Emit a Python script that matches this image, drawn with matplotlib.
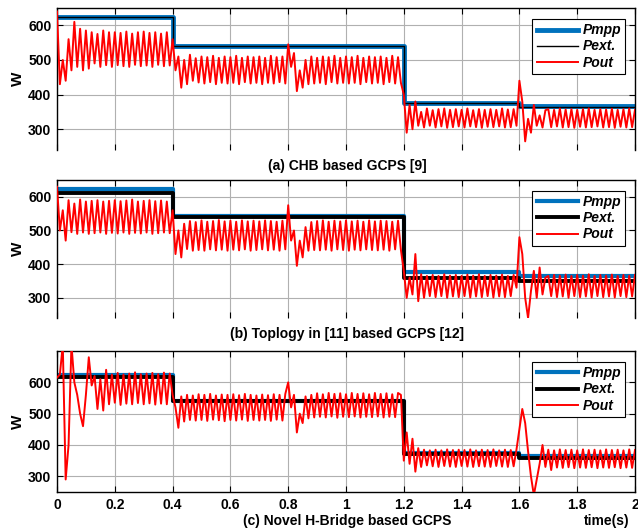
import numpy as np
import matplotlib
matplotlib.use("Agg")
import matplotlib.pyplot as plt

plt.rcParams['font.family'] = ['Liberation Sans', 'DejaVu Sans']
plt.rcParams['font.weight'] = 'bold'

# ---------------- data ----------------
seg_t = [0.0, 0.4, 1.2, 1.6, 2.0]

pmpp_a = [625, 541, 376, 366]
pext_a = [624, 540, 375, 365]
pmpp_b = [624, 543, 376, 366]
pext_b = [611, 540, 358, 350]
pmpp_c = [625, 541, 376, 366]
pext_c = [617, 540, 370, 360]

pout_a = [
    640, 430, 500, 440, 560, 470, 610, 480, 590, 470,
    585, 475, 580, 490, 575, 480, 585, 485, 580, 480,
    580, 485, 578, 482, 582, 480, 576, 486, 580, 482,
    582, 484, 578, 480, 580, 486, 576, 482, 580, 484,
    560, 470, 510, 420, 500, 430, 515, 440, 505, 435,
    510, 432, 508, 436, 512, 430, 506, 434, 510, 432,
    508, 434, 512, 430, 506, 436, 510, 432, 508, 434,
    510, 430, 506, 434, 512, 432, 508, 436, 510, 432,
    545, 480, 520, 410, 470, 420, 500, 430, 510, 432,
    506, 434, 510, 430, 508, 436, 512, 432, 506, 434,
    510, 432, 508, 434, 512, 430, 506, 436, 510, 432,
    508, 434, 510, 430, 506, 436, 512, 432, 508, 434,
    400, 290, 370, 300, 380, 310, 350, 305, 360, 310,
    355, 305, 358, 308, 360, 304, 356, 306, 358, 308,
    356, 305, 360, 308, 355, 306, 358, 304, 356, 307,
    358, 306, 356, 308, 360, 305, 357, 306, 358, 310,
    440, 380, 265, 330, 290, 370, 310, 340, 305, 355,
    358, 306, 356, 308, 360, 305, 357, 306, 358, 304,
    356, 307, 358, 305, 360, 306, 356, 308, 358, 305,
    357, 306, 359, 304, 356, 307, 358, 305, 360, 306,
    356,
]

pout_b = [
    630, 500, 560, 470, 590, 495, 580, 490, 592, 494,
    586, 490, 588, 492, 590, 494, 586, 490, 588, 493,
    590, 491, 587, 494, 589, 490, 592, 493, 586, 491,
    588, 494, 590, 490, 587, 492, 589, 494, 586, 492,
    560, 430, 500, 420, 520, 445, 528, 440, 525, 442,
    530, 440, 526, 444, 528, 441, 531, 443, 527, 440,
    529, 443, 526, 441, 530, 444, 527, 440, 529, 442,
    527, 444, 530, 441, 528, 443, 526, 440, 529, 444,
    575, 470, 500, 395, 470, 420, 510, 440, 525, 442,
    528, 441, 530, 443, 526, 440, 529, 444, 527, 442,
    530, 440, 527, 443, 529, 441, 526, 444, 530, 442,
    527, 441, 529, 443, 528, 440, 526, 444, 529, 442,
    380, 300, 360, 310, 430, 290, 370, 300, 365, 305,
    368, 302, 365, 305, 370, 300, 366, 304, 368, 302,
    365, 305, 369, 301, 366, 304, 370, 302, 365, 305,
    368, 301, 366, 304, 369, 302, 365, 305, 368, 330,
    480, 430, 300, 240, 320, 380, 300, 390, 310, 360,
    365, 305, 368, 302, 366, 304, 369, 300, 365, 305,
    368, 302, 366, 304, 370, 301, 365, 305, 368, 302,
    366, 304, 369, 301, 365, 305, 368, 302, 366, 304,
    368,
]

pout_c = [
    615, 625, 720, 290, 400, 720, 600, 560, 500, 460,
    560, 680, 590, 620, 515, 610, 510, 640, 530, 625,
    535, 630, 528, 625, 532, 628, 530, 632, 534, 626,
    530, 628, 533, 630, 529, 626, 532, 631, 530, 628,
    560, 520, 455, 555, 475, 560, 480, 558, 478, 562,
    480, 560, 477, 563, 481, 558, 479, 561, 476, 560,
    480, 562, 478, 559, 481, 563, 477, 560, 480, 558,
    478, 561, 480, 559, 477, 562, 481, 560, 478, 563,
    600, 520, 560, 440, 500, 470, 555, 485, 560, 488,
    565, 490, 562, 488, 566, 491, 563, 487, 565, 490,
    562, 489, 566, 491, 563, 488, 565, 490, 562, 489,
    566, 491, 563, 488, 565, 490, 562, 489, 566, 560,
    350, 440, 340, 420, 315, 390, 330, 385, 335, 383,
    332, 385, 330, 383, 333, 386, 331, 384, 330, 385,
    333, 384, 331, 386, 330, 383, 332, 385, 331, 384,
    330, 386, 333, 383, 331, 385, 330, 384, 332, 386,
    450, 515, 470, 380, 300, 240, 290, 340, 400, 330,
    385, 320, 383, 328, 386, 327, 384, 329, 385, 326,
    383, 328, 386, 327, 384, 329, 385, 326, 383, 328,
    386, 327, 384, 329, 385, 326, 383, 328, 386, 327,
    384,
]

titles = ["(a) CHB based GCPS [9]",
          "(b) Toplogy in [11] based GCPS [12]",
          "(c) Novel H-Bridge based GCPS"]
xticks = [0, 0.2, 0.4, 0.6, 0.8, 1.0, 1.2, 1.4, 1.6, 1.8, 2.0]
xticklabels = ["0", "0.2", "0.4", "0.6", "0.8", "1", "1.2", "1.4", "1.6", "1.8", "2"]
yticks = [300, 400, 500, 600]
legend_labels = ["Pmpp", "Pext.", "Pout"]

# ---------------- figure ----------------
fig = plt.figure(figsize=(6.38, 5.30), dpi=100)
W, H = 638, 530

def px_axes(left, top, right, bottom):
    return fig.add_axes([left / W, 1 - bottom / H, (right - left) / W, (bottom - top) / H])

axes = [px_axes(57, 8, 635, 150), px_axes(57, 180, 635, 318), px_axes(57, 351, 635, 492)]
ylims = [(240, 650), (240, 650), (250, 700)]
pmpps = [pmpp_a, pmpp_b, pmpp_c]
pexts = [pext_a, pext_b, pext_c]
pouts = [pout_a, pout_b, pout_c]
mpp_lw = [3.5, 3.0, 3.0]
ext_lw = [1.0, 2.8, 2.8]
out_lw = [1.4, 1.4, 1.4]
title_y = [166, 334, 521]
blue = '#0072BD'

for i, ax in enumerate(axes):
    t_out = np.linspace(0, 2, len(pouts[i]))
    ax.plot(seg_t, pmpps[i] + [pmpps[i][-1]], drawstyle='steps-post', color=blue,
            lw=mpp_lw[i], label=legend_labels[0], zorder=2)
    ax.plot(seg_t, pexts[i] + [pexts[i][-1]], drawstyle='steps-post', color='black',
            lw=ext_lw[i], label=legend_labels[1], zorder=3)
    ax.plot(t_out, pouts[i], color='#ff0000', lw=out_lw[i], label=legend_labels[2], zorder=4)
    ax.set_xlim(0, 2)
    ax.set_ylim(*ylims[i])
    ax.set_xticks(xticks)
    ax.set_yticks(yticks)
    ax.set_yticklabels([str(v) for v in yticks], fontsize=10, fontweight='bold')
    if i == 2:
        ax.set_xticklabels(xticklabels, fontsize=10, fontweight='bold')
    else:
        ax.set_xticklabels([])
        ax.spines['bottom'].set_visible(False)
    ax.tick_params(direction='in', top=True, right=True, length=4, width=0.8, pad=4)
    ax.grid(True, color='#b0b0b0', lw=0.8)
    ax.set_axisbelow(True)
    for s in ax.spines.values():
        s.set_linewidth(1.0)
    ax.set_ylabel("W", fontsize=11, fontweight='bold', labelpad=2)
    leg = ax.legend(loc='upper right', bbox_to_anchor=(0.995, 0.97),
                    prop={'style': 'italic', 'weight': 'bold', 'size': 10},
                    handlelength=3.0, handletextpad=0.3, borderpad=0.3,
                    labelspacing=0.15, fancybox=False, framealpha=1,
                    edgecolor='black')
    leg.get_frame().set_linewidth(0.8)
    fig.text(347 / W, 1 - title_y[i] / H, titles[i], ha='center', va='center',
             fontsize=10, fontweight='bold')

fig.text(607 / W, 1 - 521 / H, "time(s)", ha='center', va='center',
         fontsize=10, fontweight='bold')

fig.savefig("out.png", dpi=100)
